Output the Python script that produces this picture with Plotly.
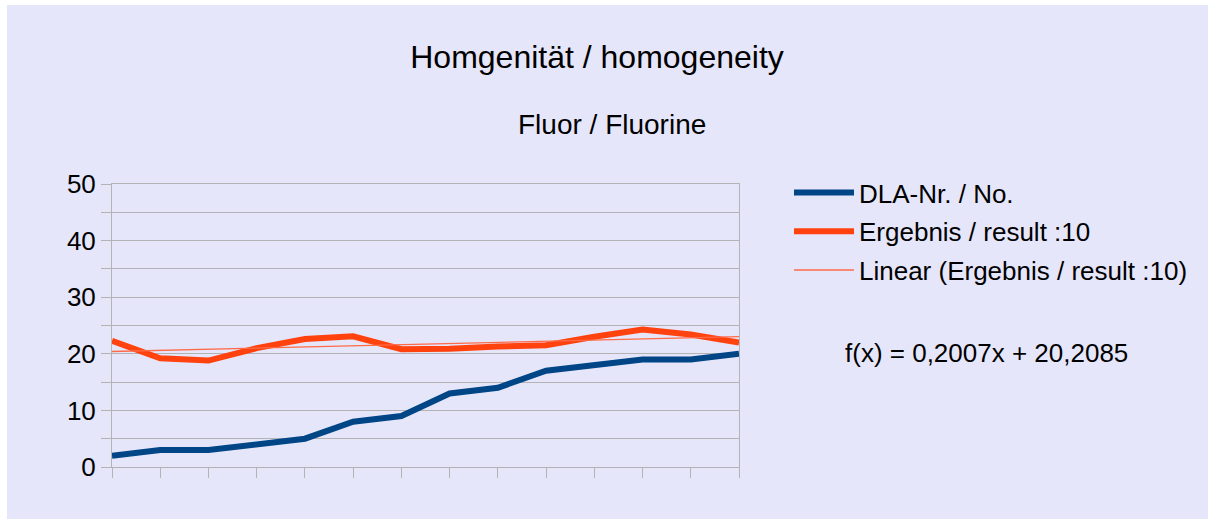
import plotly.graph_objects as go

x_idx = list(range(1, 15))
dla_no = [2, 3, 3, 4, 5, 8, 9, 13, 14, 17, 18, 19, 19, 20]
result_div10 = [22.3, 19.2, 18.8, 21.0, 22.6, 23.1, 20.8, 20.9, 21.3, 21.5, 23.0, 24.3, 23.4, 22.0]
slope = 0.2007
intercept = 20.2085
trend = [slope * x + intercept for x in x_idx]

title_text = "Homgenität / homogeneity"
subtitle_text = "Fluor / Fluorine"
eq_text = "f(x) = 0,2007x + 20,2085"
names = ["DLA-Nr. / No.", "Ergebnis / result :10", "Linear (Ergebnis / result :10)"]

OFFX, OFFY = 7, 5  # white page border left / top
W, H = 1208 - OFFX, 519 - OFFY
# plot area in screen pixels, converted to figure pixels
L, R, T, B = 112 - OFFX, 739 - OFFX, 184 - OFFY, 467 - OFFY
pw, ph = R - L, B - T

def px(xs):
    return (xs - OFFX - L) / pw

def py(ys):
    return (B - (ys - OFFY)) / ph

FONT = "Liberation Sans, Arial, sans-serif"
GRID = "#b3b3b3"
BG = "#e6e6fa"

fig = go.Figure()
fig.add_trace(go.Scatter(x=x_idx, y=dla_no, mode="lines", name=names[0],
                         line=dict(color="#004586", width=6), legendgroup="a"))
fig.add_trace(go.Scatter(x=x_idx, y=result_div10, mode="lines", name=names[1],
                         line=dict(color="#ff420e", width=6), legendgroup="b"))
fig.add_trace(go.Scatter(x=x_idx, y=trend, mode="lines", name=names[2],
                         line=dict(color="#ff6a48", width=1.3), legendgroup="c"))

fig.update_layout(
    width=W, height=H,
    margin=dict(l=L, r=W - R, t=T, b=H - B, pad=0),
    paper_bgcolor=BG,
    plot_bgcolor=BG,
    font=dict(family=FONT, size=26, color="#000000"),
    title=dict(text=title_text, x=(597 - OFFX) / W, xanchor="center", xref="container",
               y=1 - (57 - OFFY) / H, yanchor="middle", yref="container",
               font=dict(size=32, family=FONT, color="#000000")),
    showlegend=True,
    legend=dict(x=px(789), xanchor="left", y=py(169), yanchor="top",
                bgcolor="rgba(0,0,0,0)", borderwidth=0,
                font=dict(size=26, family=FONT), tracegroupgap=2,
                itemwidth=60),
    xaxis=dict(range=[1, 14], tickvals=x_idx, showticklabels=False,
               ticks="outside", ticklen=10, tickcolor=GRID, tickwidth=1,
               showgrid=False, zeroline=False, showline=True, linecolor=GRID,
               linewidth=1, mirror=True),
    yaxis=dict(range=[0, 50], tickvals=[0, 10, 20, 30, 40, 50],
               ticks="outside", ticklen=10, tickcolor=GRID, tickwidth=1,
               showgrid=True, gridcolor=GRID, gridwidth=1, zeroline=False,
               showline=True, linecolor=GRID, linewidth=1, mirror=True,
               tickfont=dict(size=26, family=FONT),
               minor=dict(dtick=5, showgrid=True, gridcolor=GRID, gridwidth=1,
                          ticks="outside", ticklen=10, tickcolor=GRID)),
    annotations=[
        dict(text=subtitle_text, xref="paper", yref="paper", x=px(612), y=py(124),
             xanchor="center", yanchor="middle", showarrow=False,
             font=dict(size=28, family=FONT)),
        dict(text=eq_text, xref="paper", yref="paper", x=px(986), y=py(353),
             xanchor="center", yanchor="middle", showarrow=False,
             font=dict(size=26, family=FONT)),
    ],
)

page_js = (
    "document.documentElement.style.overflow='hidden';"
    "document.body.style.overflow='hidden';"
    "document.body.style.margin='%dpx 0 0 %dpx';"
    "document.body.style.padding='0';"
    "document.body.style.background='white';" % (OFFY, OFFX)
)

fig.write_html("out.html", post_script=page_js)
